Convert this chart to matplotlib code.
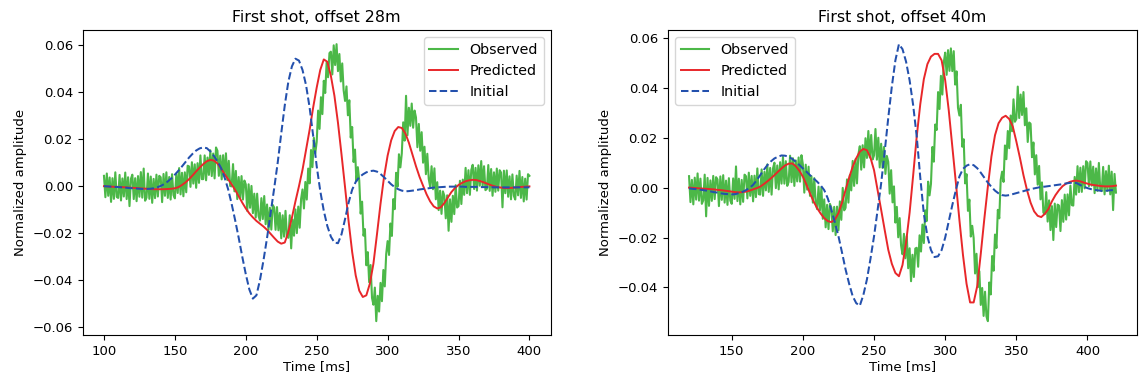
import matplotlib
matplotlib.use("Agg")
import matplotlib.pyplot as plt
import numpy as np

# amplitudes are written in units of 1e-3 (normalized amplitude)
SCALE = 1e-3

# ---- first shot, offset 28 m : time 100..400 ms ----
t0_28 = 100
obs_28 = [  # 1 ms samples
    4.4, -4.7, 5.4, -4.1, 3.7, -6.7, 3.4, -5.4, 5.9, -4.6,
    -5.0, 4.8, -6.1, 3.3, -4.4, 5.8, -5.5, 3.8, -8.5, 3.1,
    4.9, -5.5, 3.4, -6.4, 4.3, -4.5, 6.0, -4.9, 7.5, -6.2,
    -4.9, 5.4, -5.4, 4.1, -7.1, 3.1, -5.1, 4.9, -4.4, 4.4,
    3.8, -6.8, 5.2, -4.1, 5.9, -5.0, 3.9, -5.7, 5.1, -3.8,
    -5.2, 5.2, -2.9, 7.7, -3.5, 5.7, -4.3, 5.9, -2.6, 8.7,
    8.4, -0.3, 10.2, 1.1, 9.3, -0.7, 9.8, 1.4, 13.1, 3.0,
    3.0, 13.1, 2.5, 12.2, 4.8, 15.3, 4.3, 13.9, 3.3, 16.5,
    15.1, 4.4, 13.0, 2.9, 13.2, 4.0, 14.0, 2.6, 10.8, 0.1,
    -0.1, 9.4, -2.2, 6.5, -5.5, 3.9, -5.0, 4.3, -5.7, 2.4,
    0.8, -10.5, 0.8, -9.2, 0.1, -11.5, -3.2, -13.4, -3.2, -12.7,
    -14.7, -5.1, -14.0, -4.2, -16.2, -7.8, -18.6, -9.2, -18.5, -8.0,
    -9.1, -18.6, -8.9, -18.8, -11.4, -22.2, -12.4, -21.5, -10.5, -21.3,
    -22.0, -12.4, -26.5, -14.2, -21.1, -9.9, -20.0, -8.7, -17.7, -5.4,
    -1.4, -9.5, 1.8, -5.7, 7.5, 1.2, 15.4, 8.1, 20.6, 14.0,
    18.9, 32.2, 24.4, 37.9, 30.7, 44.9, 39.7, 52.7, 46.4, 56.7,
    57.3, 47.6, 60.0, 51.6, 60.5, 49.0, 56.3, 44.6, 52.3, 40.8,
    36.3, 42.5, 30.2, 36.6, 20.7, 25.2, 10.3, 15.6, 2.2, 8.1,
    2.4, -11.7, -6.6, -21.1, -18.3, -33.7, -28.1, -40.9, -33.6, -47.6,
    -50.5, -43.2, -57.5, -46.7, -53.4, -41.2, -49.0, -35.7, -42.7, -28.9,
    -23.4, -29.3, -15.9, -21.2, -5.5, -9.8, 5.7, -0.2, 13.6, 8.0,
    13.9, 27.2, 19.4, 38.5, 21.7, 33.4, 25.7, 35.2, 24.9, 32.2,
    29.3, 16.6, 26.5, 15.1, 23.0, 10.0, 16.8, 5.1, 13.8, 3.1,
    -0.2, 8.5, -1.3, 7.6, -5.6, 1.7, -10.2, -1.9, -11.8, -2.2,
    -4.1, -13.7, -3.9, -19.0, -5.6, -15.2, -4.1, -11.9, 0.4, -9.1,
    -8.5, 2.3, -7.6, 2.8, -3.7, 7.8, -3.0, 6.8, -3.7, 6.9,
    9.1, -1.2, 7.8, -1.9, 8.9, 0.2, 10.7, -0.2, 8.5, -1.7,
    -1.1, 9.0, -2.0, 7.3, -4.1, 5.9, -2.4, 7.5, -1.9, 6.8,
    5.8, -9.0, 6.6, -3.0, 6.7, -4.5, 4.2, -5.6, 5.0, -4.1,
    -5.7, 4.5, -3.9, 6.5, -5.0, 3.9, -6.5, 3.2, -5.7, 5.1,
    4.4,
]
pred_28 = [  # 2.5 ms samples
    0.0, -0.1, -0.2, -0.3, -0.3, -0.4, -0.5, -0.6, -0.7, -0.8,
    -0.9, -1.0, -1.1, -1.2, -1.3, -1.3, -1.3, -1.3, -1.2, -1.1,
    -0.9, -0.4, 0.5, 1.6, 3.0, 4.6, 6.3, 7.9, 9.4, 10.6,
    11.2, 10.9, 9.7, 7.6, 5.2, 3.0, 0.8, -1.6, -4.3, -7.0,
    -9.5, -11.6, -13.3, -14.8, -16.0, -17.2, -18.6, -20.3, -22.0, -23.6,
    -24.5, -24.0, -19.5, -13.5, -6.5, 0.0, 7.0, 15.5, 24.0, 33.5,
    42.0, 49.5, 54.0, 53.0, 47.0, 38.5, 27.0, 13.5, -0.5, -15.0,
    -28.0, -38.0, -44.5, -47.2, -46.5, -41.5, -33.0, -20.5, -7.5, 4.0,
    13.0, 19.5, 23.5, 25.2, 24.8, 22.5, 18.5, 13.5, 8.5, 4.0,
    0.2, -3.5, -6.5, -8.6, -9.5, -9.0, -7.2, -4.8, -2.5, -0.8,
    0.5, 1.4, 2.1, 2.5, 2.7, 2.6, 2.2, 1.7, 1.1, 0.5,
    0.0, -0.4, -0.6, -0.8, -0.8, -0.7, -0.6, -0.4, -0.3, -0.2,
    -0.1,
]
init_28 = [  # 2.5 ms samples
    0.0, -0.1, -0.2, -0.3, -0.4, -0.5, -0.6, -0.8, -0.9, -1.0,
    -1.1, -1.2, -1.2, -1.1, -0.9, -0.5, 0.1, 0.9, 2.0, 3.3,
    4.9, 6.6, 8.4, 10.3, 12.2, 13.8, 15.2, 16.1, 16.5, 16.2,
    14.8, 12.9, 10.6, 7.8, 3.8, -1.2, -7.5, -14.5, -22.0, -30.0,
    -37.5, -44.0, -47.9, -46.5, -40.0, -31.5, -22.0, -11.5, -1.0, 10.0,
    22.5, 34.5, 44.5, 51.0, 54.3, 53.5, 49.5, 43.0, 33.5, 21.5,
    8.5, -2.0, -10.5, -17.0, -21.5, -24.0, -24.3, -20.5, -14.0, -7.0,
    -1.5, 1.8, 3.8, 5.0, 5.9, 6.4, 6.6, 6.2, 5.2, 3.8,
    2.3, 0.8, -0.4, -1.3, -1.9, -2.2, -2.1, -1.9, -1.7, -1.4,
    -1.2, -1.0, -0.8, -0.6, -0.5, -0.4, -0.3, -0.2, -0.2, -0.2,
    -0.2, -0.2, -0.3, -0.3, -0.3, -0.3, -0.4, -0.4, -0.4, -0.4,
    -0.5, -0.5, -0.5, -0.5, -0.5, -0.5, -0.5, -0.5, -0.5, -0.5,
    -0.5,
]

# ---- first shot, offset 40 m : time 120..420 ms ----
t0_40 = 120
obs_40 = [  # 1 ms samples
    4.6, -5.8, 3.1, -6.7, 4.0, -4.8, 5.7, -5.2, 3.6, -6.5,
    -5.1, 5.2, -11.5, 3.9, -7.3, 2.9, -5.3, 4.7, -4.6, 4.2,
    3.3, -7.4, 4.5, -4.9, 5.0, -6.0, 2.8, -6.9, 3.8, -5.2,
    -6.5, 3.7, -4.5, 8.5, -5.4, 3.6, -6.7, 3.1, -5.7, 5.2,
    4.6, -4.3, 6.0, -3.3, 4.7, -5.5, 4.8, -3.8, 7.7, -2.6,
    -2.8, 7.3, -3.3, 6.3, -1.1, 9.3, -1.7, 7.9, -2.8, 7.7,
    10.0, -0.2, 8.9, -0.7, 10.2, 1.6, 12.3, 1.6, 10.6, 0.7,
    2.3, 12.8, 2.2, 11.8, 0.7, 10.9, 2.5, 12.1, 2.4, 13.0,
    9.3, -2.0, 9.2, -0.8, 8.4, -3.3, 4.6, -6.0, 3.8, -6.2,
    -8.6, 0.4, -9.1, 0.1, -12.5, -4.7, -15.9, -6.9, -16.6, -6.5,
    -8.0, -17.5, -7.7, -19.0, -7.6, -17.1, -5.5, -12.9, -0.1, -9.1,
    -8.1, 3.3, -6.0, 5.0, -1.1, 10.7, 0.7, 11.4, 1.7, 13.3,
    16.6, 7.2, 17.0, 8.1, 19.8, 11.9, 22.7, 12.1, 21.1, 11.3,
    12.9, 23.5, 11.2, 20.0, 8.1, 17.6, 7.9, 16.3, 5.5, 12.7,
    10.3, -2.4, 7.0, -5.9, 0.5, -14.0, -7.7, -19.9, -12.2, -23.2,
    -26.7, -18.5, -28.3, -19.4, -32.3, -24.3, -37.5, -26.9, -35.8, -24.4,
    -24.1, -31.7, -19.1, -25.6, -14.8, -22.2, -9.1, -13.4, 2.4, -3.1,
    1.5, 16.3, 10.4, 25.3, 23.1, 38.3, 31.5, 44.8, 37.3, 50.1,
    54.1, 45.2, 55.1, 46.8, 55.8, 46.7, 54.7, 41.3, 46.6, 32.0,
    28.9, 33.2, 16.4, 19.4, 1.7, 5.4, -9.3, -4.8, -19.6, -15.3,
    -20.2, -34.4, -26.5, -39.9, -33.5, -47.0, -40.2, -51.4, -41.7, -51.6,
    -53.5, -38.0, -42.8, -27.4, -33.3, -18.8, -24.2, -8.9, -12.3, 3.1,
    6.4, 2.3, 16.9, 11.4, 22.7, 15.8, 28.9, 22.6, 35.4, 26.4,
    27.5, 40.5, 27.9, 37.3, 29.1, 38.3, 25.0, 31.8, 18.3, 26.1,
    25.6, 12.2, 18.1, 5.3, 13.0, 1.2, 8.7, -4.7, 2.1, -10.0,
    -10.6, -1.8, -13.6, -5.1, -17.0, -7.4, -21.0, -6.4, -15.8, -6.8,
    -7.2, -17.4, -5.0, -13.7, -2.8, -12.8, -2.7, -11.1, 0.8, -7.0,
    -7.2, 4.3, -2.8, 8.6, -1.8, 8.0, -1.7, 8.6, -0.3, 10.6,
    9.9, 0.6, 10.5, 0.8, 8.4, -2.2, 7.7, -1.3, 9.9, -0.8,
    -1.4, 8.3, -2.7, 6.6, -1.3, 8.8, -2.7, 6.4, -9.0, 5.5,
    -2.0,
]
pred_40 = [  # 2.5 ms samples
    0.0, -0.1, -0.2, -0.3, -0.4, -0.5, -0.6, -0.7, -0.9, -1.0,
    -1.2, -1.4, -1.6, -1.8, -1.9, -1.8, -1.6, -1.2, -0.7, -0.2,
    0.4, 1.4, 2.5, 3.7, 5.0, 6.4, 7.7, 8.9, 9.6, 9.7,
    8.6, 6.8, 4.4, 1.2, -2.3, -5.5, -8.2, -10.4, -12.2, -13.4,
    -13.8, -12.8, -10.2, -6.0, -0.9, 4.0, 8.4, 11.8, 14.4, 15.5,
    15.0, 12.0, 7.0, -1.0, -8.9, -17.0, -24.9, -30.5, -34.2, -35.5,
    -31.0, -22.0, -10.0, 5.0, 20.5, 33.5, 43.5, 49.5, 52.5, 53.6,
    53.6, 51.0, 43.0, 31.0, 16.5, 2.0, -13.0, -27.0, -38.5, -46.0,
    -46.0, -39.5, -26.5, -12.5, 0.5, 12.5, 21.0, 25.8, 28.0, 28.8,
    27.5, 24.5, 18.5, 12.0, 5.0, -1.0, -6.0, -9.5, -11.3, -11.8,
    -10.5, -8.6, -5.5, -3.0, -1.0, 0.6, 1.6, 2.3, 2.7, 2.8,
    2.5, 2.0, 1.6, 1.2, 1.0, 0.8, 0.6, 0.5, 0.5, 0.6,
    0.8,
]
init_40 = [  # 2.5 ms samples
    -0.3, -0.5, -0.6, -0.8, -1.0, -1.2, -1.5, -1.8, -2.0, -2.3,
    -2.5, -2.6, -2.7, -2.6, -2.2, -1.7, -1.0, -0.1, 1.1, 2.9,
    5.0, 7.1, 9.0, 10.5, 11.7, 12.4, 12.9, 12.8, 12.4, 11.5,
    10.4, 9.1, 7.7, 6.4, 5.0, 3.7, 2.4, 0.9, -1.0, -4.3,
    -8.9, -14.0, -19.5, -26.0, -32.8, -38.5, -43.5, -46.3, -47.3, -43.0,
    -36.8, -28.5, -19.5, -9.0, 1.7, 14.5, 28.0, 40.5, 51.0, 57.5,
    55.5, 50.5, 43.0, 33.0, 20.5, 4.0, -10.5, -19.5, -25.0, -27.8,
    -27.5, -25.0, -20.0, -13.5, -7.0, -1.0, 4.5, 7.5, 8.8, 9.4,
    9.0, 7.8, 6.0, 4.0, 2.0, 0.3, -1.2, -2.3, -3.0, -3.2,
    -3.0, -2.6, -2.2, -1.8, -1.4, -1.0, -0.6, -0.3, 0.0, 0.3,
    0.4, 0.6, 0.8, 1.0, 1.2, 1.4, 1.7, 1.9, 2.0, 1.8,
    1.0, 0.4, -0.2, -0.6, -0.9, -1.1, -1.3, -1.3, -1.1, -1.0,
    -0.8,
]

panels = [
    ("First shot, offset 28m", t0_28, obs_28, pred_28, init_28, "upper right"),
    ("First shot, offset 40m", t0_40, obs_40, pred_40, init_40, "upper left"),
]

GREEN = "#4cb848"
RED = "#e8272a"
BLUE = "#2350ad"

fig = plt.figure(figsize=(11.42, 3.81), dpi=100)
W, H = 1142.0, 381.0
boxes = [(82.7, 550.7), (667.7, 1137.3)]
top_px, bot_px = 30.3, 335.0

for (title, t0, obs, pred, init, loc), (x0, x1) in zip(panels, boxes):
    ax = fig.add_axes([x0 / W, 1 - bot_px / H, (x1 - x0) / W, (bot_px - top_px) / H])
    t_obs = t0 + 1.0 * np.arange(len(obs))
    t_pred = t0 + 2.5 * np.arange(len(pred))
    t_init = t0 + 2.5 * np.arange(len(init))
    ax.plot(t_obs, np.array(obs) * SCALE, color=GREEN, lw=1.5, label="Observed")
    ax.plot(t_pred, np.array(pred) * SCALE, color=RED, lw=1.4, label="Predicted")
    ax.plot(t_init, np.array(init) * SCALE, color=BLUE, lw=1.45, ls="--", label="Initial")
    ax.set_title(title, fontsize=11.4)
    ax.set_xlabel("Time [ms]", fontsize=9.5, labelpad=2)
    ax.set_ylabel("Normalized amplitude", fontsize=9.5)
    ax.tick_params(labelsize=9.5)
    ax.legend(loc=loc, fontsize=10.3)

fig.savefig("out.png", dpi=100)
